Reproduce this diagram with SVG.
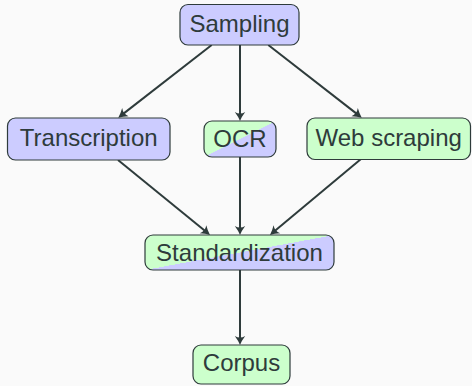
<svg xmlns="http://www.w3.org/2000/svg" width="472" height="386" viewBox="0 0 472 386">
<style>
.box{stroke:#2e3b3b;stroke-width:1.2}
.lav{fill:#ccccff}
.grn{fill:#ccffcc}
.mix{fill:url(#split)}
.lbl{font-family:"Liberation Sans",Arial,sans-serif;font-size:24px;fill:#2e3b3b;text-anchor:middle}
.edge{stroke:#2e3b3b;stroke-width:2;fill:none;marker-end:url(#arr)}
</style>
<defs>
<linearGradient id="split" x1="0" y1="0" x2="1" y2="1">
<stop offset="0" stop-color="#ccffcc"/>
<stop offset="0.5" stop-color="#ccffcc"/>
<stop offset="0.5" stop-color="#ccccff"/>
<stop offset="1" stop-color="#ccccff"/>
</linearGradient>
<marker id="arr" markerUnits="userSpaceOnUse" viewBox="-5 -7 16 14" refX="0" refY="0" markerWidth="16" markerHeight="14" orient="auto">
<path d="M5,0 Q0.5,-1.8 -4,-5.2 Q-1,0 -4,5.2 Q0.5,1.8 5,0 Z" fill="#2e3b3b"/>
</marker>
</defs>
<rect width="472" height="386" fill="#fafafa"/>
<g id="connectors">
<path class="edge" d="M211.7,45 L122.2,114.6"/>
<path class="edge" d="M240,45 L240,116"/>
<path class="edge" d="M268.3,45 L357.8,114.6"/>
<path class="edge" d="M118,160 L206.1,231.8"/>
<path class="edge" d="M240,157 L240,230"/>
<path class="edge" d="M361,159 L273.8,231.8"/>
<path class="edge" d="M240,270 L240,340"/>
</g>
<g id="sampling">
<rect class="box lav" x="180" y="4.5" width="119" height="40.5" rx="8"/>
<text class="lbl" x="239.5" y="31.5">Sampling</text>
</g>
<g id="transcription">
<rect class="box lav" x="7.5" y="118" width="162.5" height="42" rx="8"/>
<text class="lbl" x="88.7" y="146">Transcription</text>
</g>
<g id="ocr">
<rect class="box mix" x="204" y="121" width="72" height="36" rx="8"/>
<text class="lbl" x="240" y="147">OCR</text>
</g>
<g id="webscraping">
<rect class="box grn" x="307" y="118" width="163.5" height="41.5" rx="8"/>
<text class="lbl" x="388.7" y="146">Web scraping</text>
</g>
<g id="standardization">
<rect class="box mix" x="145" y="235" width="189" height="35" rx="8"/>
<text class="lbl" x="239.5" y="261">Standardization</text>
</g>
<g id="corpus">
<rect class="box grn" x="193" y="345" width="97" height="39" rx="8"/>
<text class="lbl" x="241.5" y="371">Corpus</text>
</g>
</svg>
